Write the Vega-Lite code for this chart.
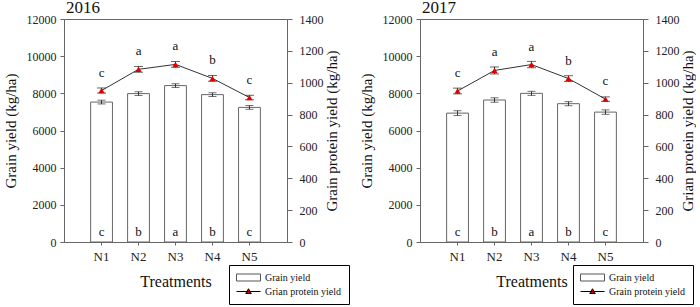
{
  "$schema": "https://vega.github.io/schema/vega-lite/v6.json",
  "background": "white",
  "padding": {"left": 2, "top": -2, "right": 0, "bottom": 0},
  "bounds": "flush",
  "spacing": 133,
  "resolve": {"scale": {"shape": "independent", "fill": "independent", "stroke": "independent"}, "legend": {"shape": "independent", "fill": "independent", "stroke": "independent"}},
  "config": {
    "font": "Liberation Serif",
    "view": {"stroke": "#666", "strokeWidth": 1},
    "axis": {"labelFont": "Liberation Serif", "titleFont": "Liberation Serif", "domainColor": "#666", "tickColor": "#666", "labelColor": "#222", "titleColor": "#111", "titleFontWeight": "normal", "grid": false, "labelFontSize": 12, "titleFontSize": 15, "tickSize": 4, "labelPadding": 4, "titlePadding": 8, "labelOverlap": false},
    "legend": {"labelFont": "Liberation Serif"},
    "title": {"font": "Liberation Serif", "fontSize": 17, "fontWeight": "normal", "anchor": "start", "color": "#111", "offset": -4, "frame": "group"},
    "text": {"font": "Liberation Serif", "color": "#111"}
  },
  "hconcat": [
    {
      "title": {"text": "2016", "dx": 2},
      "width": 223,
      "height": 223,
      "data": {"values": [
        {"treatment": "N1", "grain": 7530, "grain_se": 100, "grain_sig": "c", "protein": 951, "protein_se": 16, "protein_sig": "c"},
        {"treatment": "N2", "grain": 7985, "grain_se": 100, "grain_sig": "b", "protein": 1084, "protein_se": 18, "protein_sig": "a"},
        {"treatment": "N3", "grain": 8416, "grain_se": 100, "grain_sig": "a", "protein": 1115, "protein_se": 18, "protein_sig": "a"},
        {"treatment": "N4", "grain": 7930, "grain_se": 100, "grain_sig": "b", "protein": 1027, "protein_se": 18, "protein_sig": "b"},
        {"treatment": "N5", "grain": 7244, "grain_se": 100, "grain_sig": "c", "protein": 907, "protein_se": 14, "protein_sig": "c"}
      ]},
      "encoding": {
        "x": {"field": "treatment", "type": "nominal", "scale": {"type": "band", "paddingInner": 0.41, "paddingOuter": 0.72},
          "axis": {"title": "Treatments", "labelAngle": 0, "tickSize": 3, "titleFontSize": 16, "labelFontSize": 13, "labelPadding": 5, "titlePadding": 10}}
      },
      "layer": [
        {
          "encoding": {"y": {"field": "grain", "type": "quantitative", "scale": {"domain": [0, 12000], "nice": false},
            "axis": {"title": "Grain yield (kg/ha)", "orient": "left", "format": "d", "labelOverlap": false, "tickCount": 7, "values": [0, 2000, 4000, 6000, 8000, 10000, 12000]}}},
          "layer": [
            {"mark": {"type": "bar", "fill": "white", "stroke": "#666", "strokeWidth": 1}},
            {"mark": {"type": "errorbar", "ticks": {"size": 8}, "color": "#333"},
             "encoding": {"yError": {"field": "grain_se"}}},
            {"mark": {"type": "text", "dy": -10, "fontSize": 13},
             "encoding": {"y": {"datum": 0, "type": "quantitative"}, "text": {"field": "grain_sig"}}}
          ]
        },
        {
          "encoding": {"y": {"field": "protein", "type": "quantitative", "scale": {"domain": [0, 1400], "nice": false},
            "axis": {"title": "Grain protein yield (kg/ha)", "orient": "right", "format": "d", "labelOverlap": false, "tickCount": 8, "tickSize": 5, "labelPadding": 7, "titlePadding": 1, "values": [0, 200, 400, 600, 800, 1000, 1200, 1400], "titleAngle": 270, "titleBaseline": "top"}}},
          "layer": [
            {"mark": {"type": "line", "color": "#333", "strokeWidth": 1}},
            {"mark": {"type": "errorbar", "ticks": {"size": 9}, "color": "#222"},
             "encoding": {"yError": {"field": "protein_se"}}},
            {"mark": {"type": "point", "shape": "triangle-up", "filled": true, "color": "#e00000", "size": 40, "opacity": 1}},
            {"mark": {"type": "text", "dy": -18, "fontSize": 13},
             "encoding": {"text": {"field": "protein_sig"}}},
            {"data": {"values": [{"panel": "A"}]},
             "mark": {"type": "text", "dx": 23, "dy": 11, "fontSize": 15},
             "encoding": {"x": {"datum": "N5"}, "y": {"datum": 1400, "type": "quantitative"}, "text": {"field": "panel"}}},
            {"data": {"values": [{"series": "Grain yield"}, {"series": "Grian protein yield"}]},
             "mark": {"type": "point", "opacity": 0, "filled": true, "strokeWidth": 1},
             "encoding": {"x": {"datum": "N1"}, "y": {"datum": 0, "type": "quantitative"},
               "shape": {"field": "series", "type": "nominal",
                 "scale": {"domain": ["Grain yield", "Grian protein yield"], "range": ["M-1,-0.7H3.8V0.7H-1Z", "M-1,0H3.8M1.4,-0.55L1.95,0.4L0.85,0.4Z"]},
                 "legend": {"orient": "none", "legendX": 165, "legendY": 246, "title": null, "strokeColor": "black", "fillColor": "white", "padding": 7, "labelFontSize": 10, "labelColor": "#111", "symbolSize": 100, "labelOffset": 18, "rowPadding": 3, "symbolStrokeWidth": 1, "symbolOpacity": 1}},
               "fill": {"field": "series", "type": "nominal", "scale": {"domain": ["Grain yield", "Grian protein yield"], "range": ["white", "#e00000"]},
                 "legend": {"orient": "none", "legendX": 165, "legendY": 246, "title": null, "strokeColor": "black", "fillColor": "white", "padding": 7, "labelFontSize": 10, "labelColor": "#111", "symbolSize": 100, "labelOffset": 18, "rowPadding": 3, "symbolStrokeWidth": 1, "symbolOpacity": 1}},
               "stroke": {"field": "series", "type": "nominal", "scale": {"domain": ["Grain yield", "Grian protein yield"], "range": ["#555", "#000"]},
                 "legend": {"orient": "none", "legendX": 165, "legendY": 246, "title": null, "strokeColor": "black", "fillColor": "white", "padding": 7, "labelFontSize": 10, "labelColor": "#111", "symbolSize": 100, "labelOffset": 18, "rowPadding": 3, "symbolStrokeWidth": 1, "symbolOpacity": 1}}}}
          ]
        }
      ],
      "resolve": {"scale": {"y": "independent"}}
    },
    {
      "title": {"text": "2017", "dx": 2},
      "width": 223,
      "height": 223,
      "data": {"values": [
        {"treatment": "N1", "grain": 6935, "grain_se": 130, "grain_sig": "c", "protein": 948, "protein_se": 18, "protein_sig": "c"},
        {"treatment": "N2", "grain": 7640, "grain_se": 120, "grain_sig": "b", "protein": 1077, "protein_se": 22, "protein_sig": "a"},
        {"treatment": "N3", "grain": 8000, "grain_se": 110, "grain_sig": "a", "protein": 1114, "protein_se": 20, "protein_sig": "a"},
        {"treatment": "N4", "grain": 7443, "grain_se": 110, "grain_sig": "b", "protein": 1026, "protein_se": 18, "protein_sig": "b"},
        {"treatment": "N5", "grain": 6990, "grain_se": 120, "grain_sig": "c", "protein": 897, "protein_se": 14, "protein_sig": "c"}
      ]},
      "encoding": {
        "x": {"field": "treatment", "type": "nominal", "scale": {"type": "band", "paddingInner": 0.41, "paddingOuter": 0.72},
          "axis": {"title": "Treatments", "labelAngle": 0, "tickSize": 3, "titleFontSize": 16, "labelFontSize": 13, "labelPadding": 5, "titlePadding": 10}}
      },
      "layer": [
        {
          "encoding": {"y": {"field": "grain", "type": "quantitative", "scale": {"domain": [0, 12000], "nice": false},
            "axis": {"title": "Grain yield (kg/ha)", "orient": "left", "format": "d", "labelOverlap": false, "tickCount": 7, "values": [0, 2000, 4000, 6000, 8000, 10000, 12000]}}},
          "layer": [
            {"mark": {"type": "bar", "fill": "white", "stroke": "#666", "strokeWidth": 1}},
            {"mark": {"type": "errorbar", "ticks": {"size": 8}, "color": "#333"},
             "encoding": {"yError": {"field": "grain_se"}}},
            {"mark": {"type": "text", "dy": -10, "fontSize": 13},
             "encoding": {"y": {"datum": 0, "type": "quantitative"}, "text": {"field": "grain_sig"}}}
          ]
        },
        {
          "encoding": {"y": {"field": "protein", "type": "quantitative", "scale": {"domain": [0, 1400], "nice": false},
            "axis": {"title": "Grian protein yield (kg/ha)", "orient": "right", "format": "d", "labelOverlap": false, "tickCount": 8, "tickSize": 5, "labelPadding": 7, "titlePadding": 1, "values": [0, 200, 400, 600, 800, 1000, 1200, 1400], "titleAngle": 270, "titleBaseline": "top"}}},
          "layer": [
            {"mark": {"type": "line", "color": "#333", "strokeWidth": 1}},
            {"mark": {"type": "errorbar", "ticks": {"size": 9}, "color": "#222"},
             "encoding": {"yError": {"field": "protein_se"}}},
            {"mark": {"type": "point", "shape": "triangle-up", "filled": true, "color": "#e00000", "size": 40, "opacity": 1}},
            {"mark": {"type": "text", "dy": -18, "fontSize": 13},
             "encoding": {"text": {"field": "protein_sig"}}},
            {"data": {"values": [{"panel": "B"}]},
             "mark": {"type": "text", "dx": 27, "dy": 11, "fontSize": 15},
             "encoding": {"x": {"datum": "N5"}, "y": {"datum": 1400, "type": "quantitative"}, "text": {"field": "panel"}}},
            {"data": {"values": [{"series": "Grain yield"}, {"series": "Grain protein yield"}]},
             "mark": {"type": "point", "opacity": 0, "filled": true, "strokeWidth": 1},
             "encoding": {"x": {"datum": "N1"}, "y": {"datum": 0, "type": "quantitative"},
               "shape": {"field": "series", "type": "nominal",
                 "scale": {"domain": ["Grain yield", "Grain protein yield"], "range": ["M-1,-0.7H3.8V0.7H-1Z", "M-1,0H3.8M1.4,-0.55L1.95,0.4L0.85,0.4Z"]},
                 "legend": {"orient": "none", "legendX": 153, "legendY": 246, "title": null, "strokeColor": "black", "fillColor": "white", "padding": 7, "labelFontSize": 10, "labelColor": "#111", "symbolSize": 100, "labelOffset": 18, "rowPadding": 3, "symbolStrokeWidth": 1, "symbolOpacity": 1}},
               "fill": {"field": "series", "type": "nominal", "scale": {"domain": ["Grain yield", "Grain protein yield"], "range": ["white", "#e00000"]},
                 "legend": {"orient": "none", "legendX": 153, "legendY": 246, "title": null, "strokeColor": "black", "fillColor": "white", "padding": 7, "labelFontSize": 10, "labelColor": "#111", "symbolSize": 100, "labelOffset": 18, "rowPadding": 3, "symbolStrokeWidth": 1, "symbolOpacity": 1}},
               "stroke": {"field": "series", "type": "nominal", "scale": {"domain": ["Grain yield", "Grain protein yield"], "range": ["#555", "#000"]},
                 "legend": {"orient": "none", "legendX": 153, "legendY": 246, "title": null, "strokeColor": "black", "fillColor": "white", "padding": 7, "labelFontSize": 10, "labelColor": "#111", "symbolSize": 100, "labelOffset": 18, "rowPadding": 3, "symbolStrokeWidth": 1, "symbolOpacity": 1}}}}
          ]
        }
      ],
      "resolve": {"scale": {"y": "independent"}}
    }
  ]
}
